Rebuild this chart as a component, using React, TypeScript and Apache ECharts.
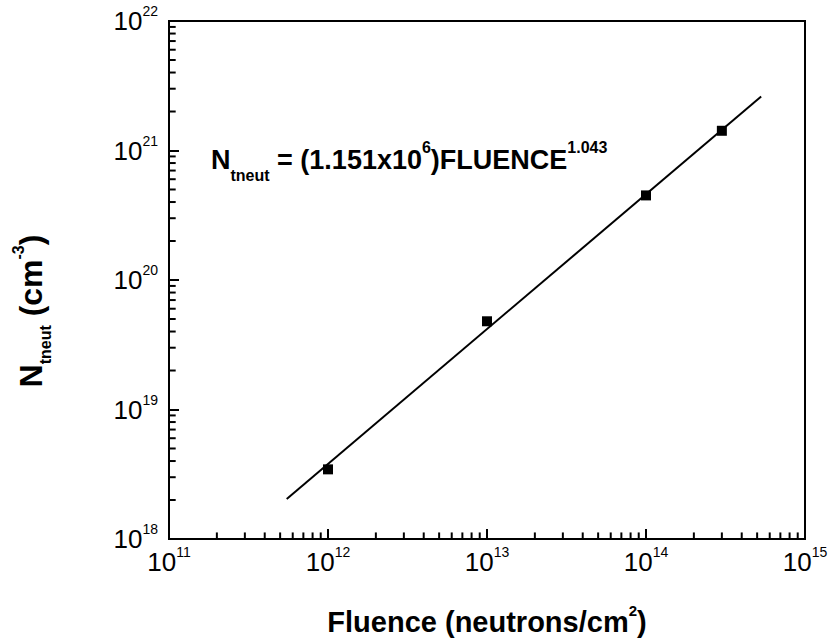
import React, { useEffect, useRef } from "react";
import * as echarts from "echarts";

// Measured points: fluence (neutrons/cm^2) vs. N_tneut (cm^-3)
const fluence = [1e12, 1e13, 1e14, 3e14];
const nTneut = [3.45e18, 4.8e19, 4.5e20, 1.42e21];

// Power-law fit line end points
const fitFluence = [5.5e11, 5.3e14];
const fitNtneut = [2.04e18, 2.61e21];

// Axis ranges (decades)
const xDecades = [1e11, 1e12, 1e13, 1e14];
const yDecades = [1e18, 1e19, 1e20, 1e21];
const minorSteps = [2, 3, 4, 5, 6, 7, 8, 9];
const X_MIN = 1e11;
const X_MAX = 1e15;
const Y_MIN = 1e18;
const Y_MAX = 1e22;
// points exactly on the frame get dropped, so minor ticks sit a hair inside it
const EDGE = 1.01;

const FONT = "'Liberation Sans', Arial, Helvetica, sans-serif";

const xMinorTicks = xDecades.flatMap((d) => minorSteps.map((m) => m * d));
const yMinorTicks = yDecades.flatMap((d) => minorSteps.map((m) => m * d));

const tickLabel = (v: number) => `{b|10}{s|${Math.round(Math.log10(v))}}`;
const tickRich = {
  b: { fontSize: 26, fontFamily: FONT, color: "#000" },
  s: { fontSize: 14, fontFamily: FONT, color: "#000", padding: [0, 0, 20, 0] },
};

export default function App() {
  const ref = useRef<HTMLDivElement>(null);

  useEffect(() => {
    if (!ref.current) return;
    const chart = echarts.init(ref.current, undefined, { renderer: "svg" });

    chart.setOption({
      animation: false,
      backgroundColor: "#fff",
      grid: {
        left: 169,
        right: 27,
        top: 21,
        bottom: 104,
        show: true,
        borderColor: "#000",
        borderWidth: 2,
        backgroundColor: "transparent",
      },
      xAxis: {
        type: "log",
        logBase: 10,
        min: X_MIN,
        max: X_MAX,
        splitNumber: 4,
        splitLine: { show: false },
        axisLine: { show: true, lineStyle: { color: "#000", width: 2 } },
        axisTick: { show: true, inside: true, length: 10, lineStyle: { color: "#000", width: 2 } },
        axisLabel: { margin: 6, formatter: tickLabel, rich: tickRich },
        name: "{t|Fluence (neutrons/cm}{s|2}{t|)}",
        nameLocation: "middle",
        nameGap: 64,
        nameTextStyle: {
          rich: {
            t: { fontSize: 29, fontWeight: "bold", fontFamily: FONT, color: "#000" },
            s: { fontSize: 15, fontWeight: "bold", fontFamily: FONT, color: "#000", padding: [0, 0, 22, 0] },
          },
        },
      },
      yAxis: {
        type: "log",
        logBase: 10,
        min: Y_MIN,
        max: Y_MAX,
        splitNumber: 4,
        splitLine: { show: false },
        axisLine: { show: true, lineStyle: { color: "#000", width: 2 } },
        axisTick: { show: true, inside: true, length: 10, lineStyle: { color: "#000", width: 2 } },
        axisLabel: { margin: 11, formatter: tickLabel, rich: tickRich },
      },
      graphic: [
        {
          type: "text",
          x: 211,
          y: 160,
          silent: true,
          style: {
            text: "{b|N}{sub|tneut}{b| = (1.151x10}{sup|6}{b|)FLUENCE}{sup|1.043}",
            align: "left",
            verticalAlign: "middle",
            textAlign: "left",
            textVerticalAlign: "middle",
            rich: {
              b: { fontSize: 27, fontWeight: "bold", fontFamily: FONT, fill: "#000" },
              sub: { fontSize: 16, fontWeight: "bold", fontFamily: FONT, fill: "#000", padding: [30, 0, 0, 0] },
              sup: { fontSize: 16, fontWeight: "bold", fontFamily: FONT, fill: "#000", padding: [0, 0, 25, 0] },
            },
          },
        },
        {
          type: "text",
          x: 31,
          y: 311,
          rotation: Math.PI / 2,
          silent: true,
          style: {
            text: "{b|N}{sub|tneut}{b| (cm}{sup|-3}{b|)}",
            align: "center",
            verticalAlign: "middle",
            textAlign: "center",
            textVerticalAlign: "middle",
            rich: {
              b: { fontSize: 32, fontWeight: "bold", fontFamily: FONT, fill: "#000" },
              sub: { fontSize: 16, fontWeight: "bold", fontFamily: FONT, fill: "#000", padding: [28, 0, 0, 0] },
              sup: { fontSize: 16, fontWeight: "bold", fontFamily: FONT, fill: "#000", padding: [0, 0, 26, 0] },
            },
          },
        },
      ],
      series: [
        {
          type: "line",
          data: fitFluence.map((x, i) => [x, fitNtneut[i]]),
          showSymbol: false,
          symbol: "none",
          lineStyle: { color: "#000", width: 2 },
          silent: true,
          z: 3,
        },
        {
          type: "scatter",
          data: fluence.map((x, i) => [x, nTneut[i]]),
          symbol: "rect",
          symbolSize: 10,
          itemStyle: { color: "#000", opacity: 1 },
          silent: true,
          z: 4,
        },
        {
          // minor ticks along the bottom axis
          type: "scatter",
          data: xMinorTicks.map((v) => [v, Y_MIN * EDGE]),
          symbol: "rect",
          symbolSize: [2, 6],
          symbolOffset: [0, -3],
          itemStyle: { color: "#000", opacity: 1 },
          silent: true,
          z: 5,
        },
        {
          // minor ticks along the left axis
          type: "scatter",
          data: yMinorTicks.map((v) => [X_MIN * EDGE, v]),
          symbol: "rect",
          symbolSize: [6, 2],
          symbolOffset: [3, 0],
          itemStyle: { color: "#000", opacity: 1 },
          silent: true,
          z: 5,
        },
      ],
    });

    return () => chart.dispose();
  }, []);

  return (
    <div
      ref={ref}
      style={{ position: "fixed", left: 0, top: 0, width: 832, height: 643, background: "#fff" }}
    />
  );
}
